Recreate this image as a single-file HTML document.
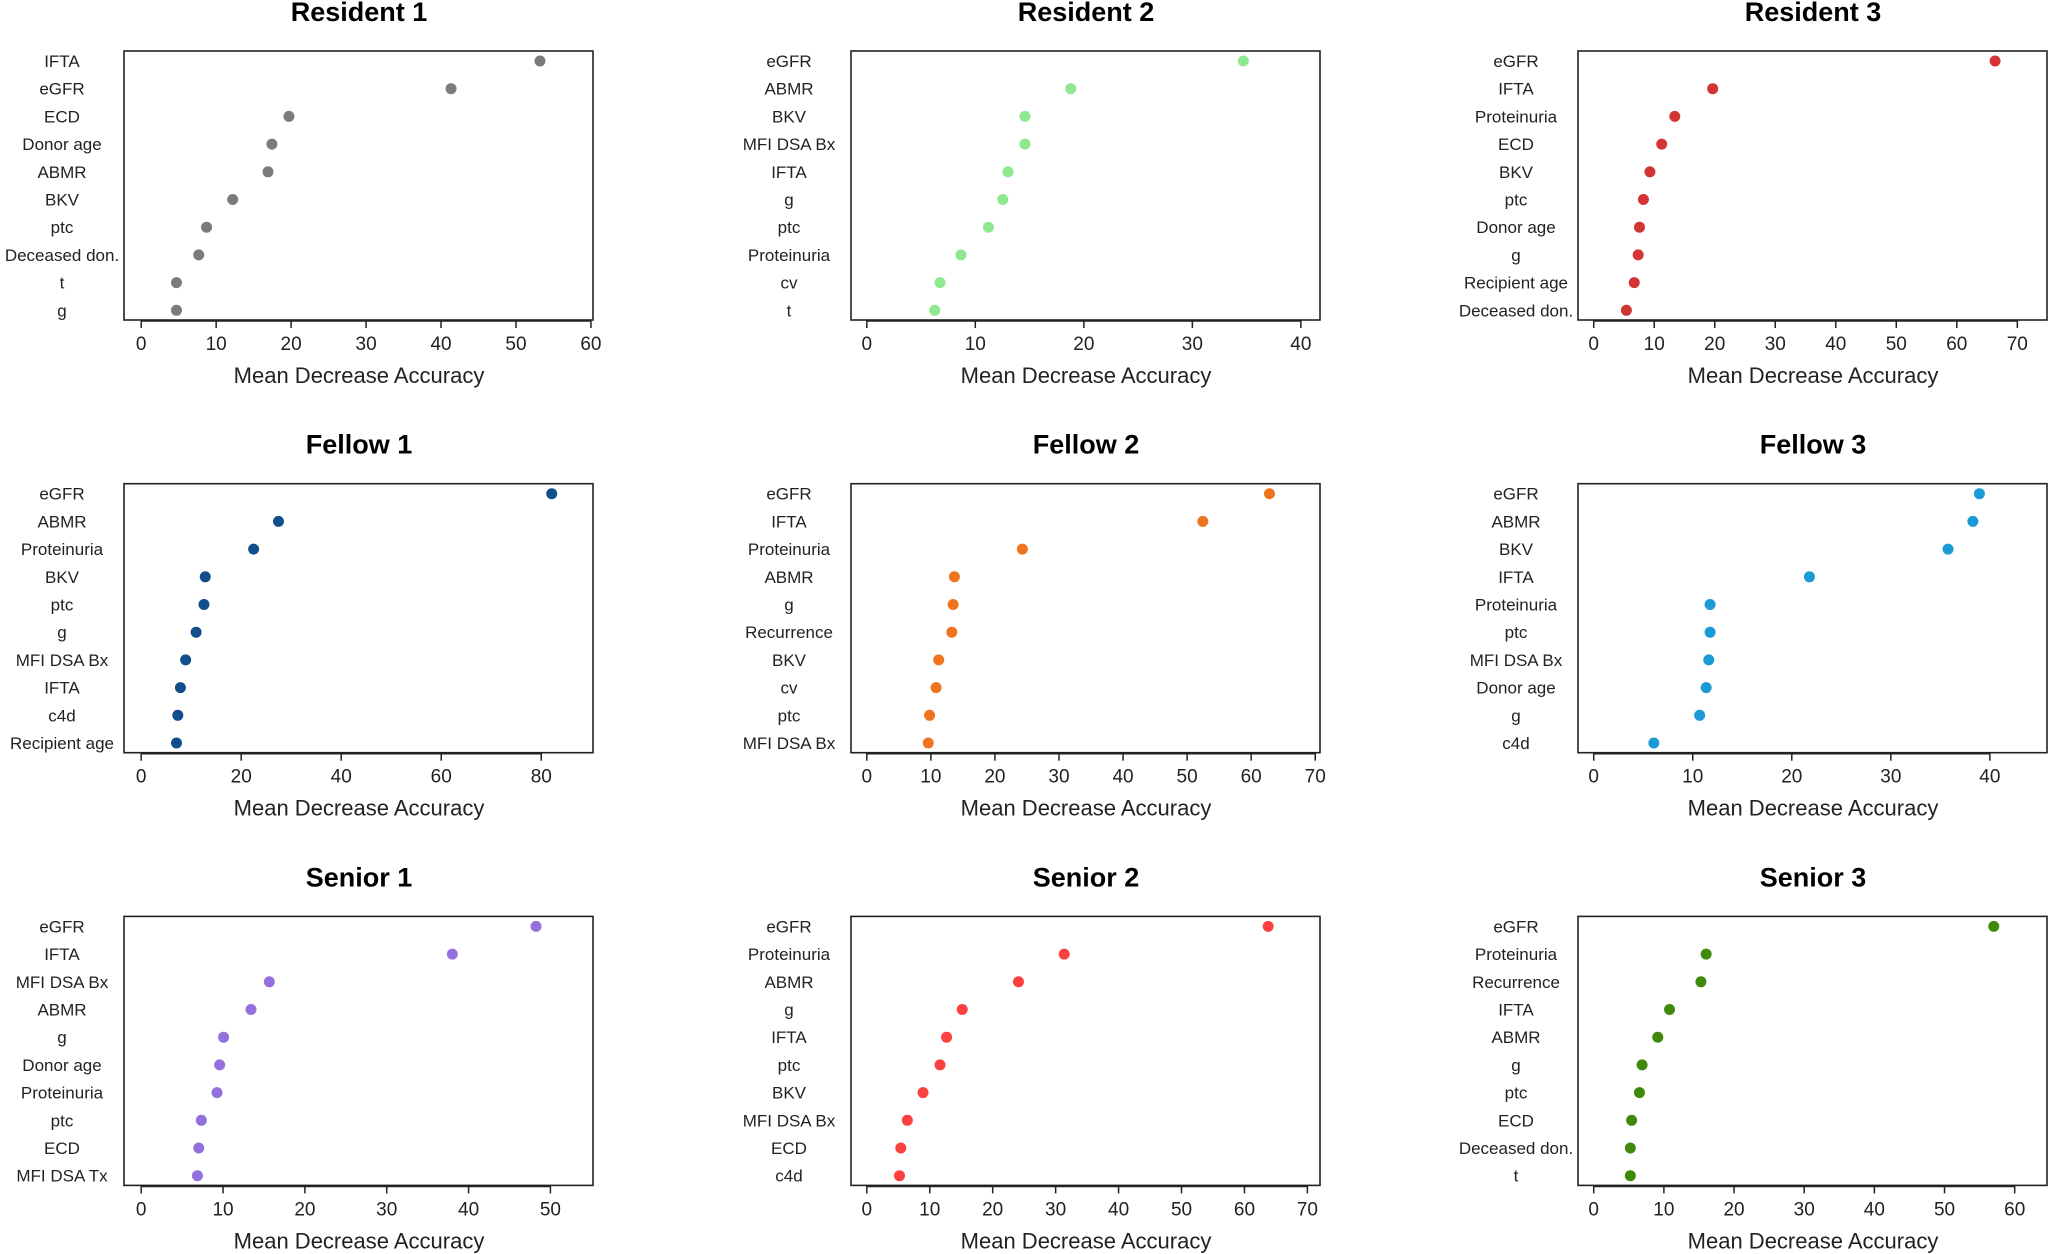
<!DOCTYPE html>
<html><head><meta charset="utf-8"><style>
html,body{margin:0;padding:0;background:#fff;}
svg{display:block;font-family:"Liberation Sans",Arial,sans-serif;}
</style></head><body>
<svg id="s" width="2050" height="1254" viewBox="0 0 2050 1254" xmlns="http://www.w3.org/2000/svg"></svg>
<script>
const K=2050/1568;
const P=[
["Resident 1","#7b7b7b",0,0,[0,60],10,[["IFTA",413],["eGFR",345],["ECD",221],["Donor age",208],["ABMR",205],["BKV",178],["ptc",158],["Deceased don.",152],["t",135],["g",135]],108,452],
["Resident 2","#8fe88f",1,0,[0,40],10,[["eGFR",951],["ABMR",819],["BKV",784],["MFI DSA Bx",784],["IFTA",771],["g",767],["ptc",756],["Proteinuria",735],["cv",719],["t",715]],663,995],
["Resident 3","#d33535",2,0,[0,70],10,[["eGFR",1526],["IFTA",1310],["Proteinuria",1281],["ECD",1271],["BKV",1262],["ptc",1257],["Donor age",1254],["g",1253],["Recipient age",1250],["Deceased don.",1244]],1219,1543],
["Fellow 1","#124e8c",0,1,[0,80],20,[["eGFR",422],["ABMR",213],["Proteinuria",194],["BKV",157],["ptc",156],["g",150],["MFI DSA Bx",142],["IFTA",138],["c4d",136],["Recipient age",135]],108,414],
["Fellow 2","#ef7420",1,1,[0,70],10,[["eGFR",971],["IFTA",920],["Proteinuria",782],["ABMR",730],["g",729],["Recurrence",728],["BKV",718],["cv",716],["ptc",711],["MFI DSA Bx",710]],663,1006],
["Fellow 3","#1b9ad6",2,1,[0,40],10,[["eGFR",1514],["ABMR",1509],["BKV",1490],["IFTA",1384],["Proteinuria",1308],["ptc",1308],["MFI DSA Bx",1307],["Donor age",1305],["g",1300],["c4d",1265]],1219,1522],
["Senior 1","#9370db",0,2,[0,50],10,[["eGFR",410],["IFTA",346],["MFI DSA Bx",206],["ABMR",192],["g",171],["Donor age",168],["Proteinuria",166],["ptc",154],["ECD",152],["MFI DSA Tx",151]],108,421],
["Senior 2","#fb4040",1,2,[0,70],10,[["eGFR",970],["Proteinuria",814],["ABMR",779],["g",736],["IFTA",724],["ptc",719],["BKV",706],["MFI DSA Bx",694],["ECD",689],["c4d",688]],663,1000],
["Senior 3","#3f8a0a",2,2,[0,60],10,[["eGFR",1525],["Proteinuria",1305],["Recurrence",1301],["IFTA",1277],["ABMR",1268],["g",1256],["ptc",1254],["ECD",1248],["Deceased don.",1247],["t",1247]],1219,1541]
];
let h="";
for(const p of P){
 const [title,col,c,r,rng,step,rows,t0d,t1d]=p;
 const L=124+c*727, T=51+r*432.7, R=L+469, B=T+269;
 const cx=L+235;
 h+=`<text x="${cx}" y="${T-30}" font-size="27" font-weight="bold" text-anchor="middle">${title}</text>`;
 h+=`<rect x="${L}" y="${T}" width="${R-L}" height="${B-T}" fill="none" stroke="#222" stroke-width="1.6"/>`;
 const x0=t0d*K, x1=t1d*K, sc=(x1-x0)/(rng[1]-rng[0]);
 h+=`<line x1="${x0}" y1="${B+1}" x2="${x1}" y2="${B+1}" stroke="#222" stroke-width="1.6"/>`;
 for(let v=rng[0];v<=rng[1];v+=step){
  const x=x0+(v-rng[0])*sc;
  h+=`<line x1="${x}" y1="${B}" x2="${x}" y2="${B+8}" stroke="#222" stroke-width="1.5"/>`;
  h+=`<text x="${x}" y="${B+30}" font-size="19" text-anchor="middle" fill="#222">${v}</text>`;
 }
 h+=`<text x="${cx}" y="${B+63}" font-size="22" text-anchor="middle" fill="#222">Mean Decrease Accuracy</text>`;
 rows.forEach((rw,i)=>{
  const y=T+10+i*27.7;
  h+=`<text x="${L-62}" y="${y+6}" font-size="17" text-anchor="middle" fill="#222">${rw[0]}</text>`;
  h+=`<circle cx="${rw[1]*K}" cy="${y}" r="5.5" fill="${col}"/>`;
 });
}
document.getElementById("s").innerHTML=h;
</script>
</body></html>
